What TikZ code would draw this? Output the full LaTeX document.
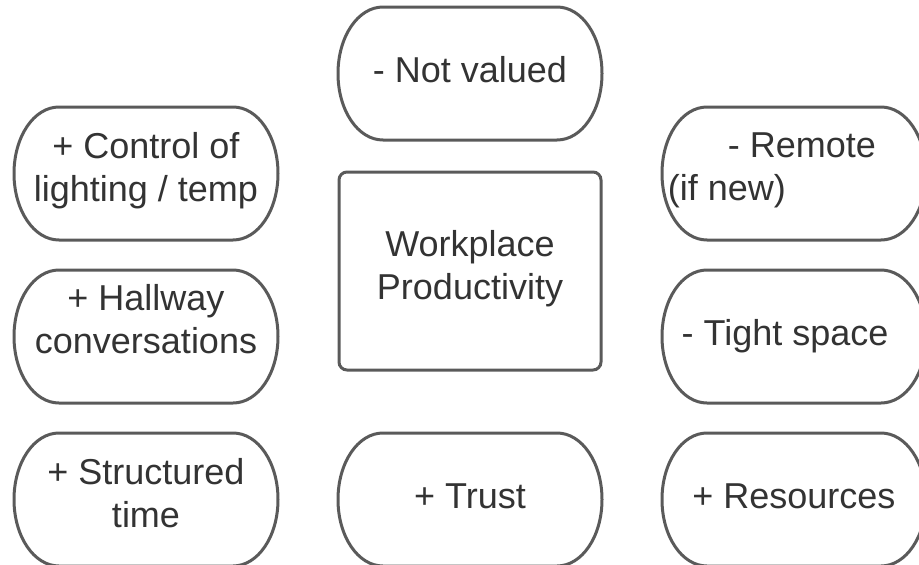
\documentclass[tikz,border=0pt]{standalone}
\usepackage{fontspec}
\setmainfont{Liberation Sans}
\usepackage{tikz}
\usetikzlibrary{positioning}
\definecolor{outline}{HTML}{5A5A5A}
\definecolor{ink}{HTML}{333333}

\begin{document}
\begin{tikzpicture}[line width=3pt, node distance=30pt,
    every node/.style={text=ink, font=\fontsize{36}{43}\selectfont, inner sep=0pt, outer sep=0pt,
      execute at begin node=\strut, execute at end node=\strut},
    pill/.style={rectangle, minimum width=264pt, minimum height=133pt, align=center},
    pill line/.style={draw=outline, line join=round}]
  \useasboundingbox (0,0) rectangle (919pt,-565pt);
  \node[pill] (structured) at (146pt,-499.5pt) {+ Structured\\time};
  \node[pill, right=60pt of structured] (trust) {+ Trust};
  \node[pill, right=60pt of trust] (resources) {+ Resources};
  \node[pill, above=of structured, text depth=36pt] (hallway) {+ Hallway\\conversations};
  \node[pill, above=of hallway] (control) {+ Control of\\lighting / temp};
  \node[pill, above=of resources] (tight) {- Tight space\hspace*{18pt}};
  \node[pill, above=of tight, align=left] (remote) {\hspace*{60pt}- Remote\hspace*{44pt}\\(if new)};
  \node[rectangle, rounded corners=8pt, draw=outline, minimum width=262pt, minimum height=198pt,
    align=center, above=63pt of trust] (prod) {Workplace\\Productivity};
  \node[pill, above=32pt of prod] (notvalued) {- Not valued};
  % terminator outlines around the pills
  \foreach \n in {notvalued,control,hallway,structured,trust,remote,tight,resources}
    \draw[pill line] ([xshift=45pt]\n.north west) -- ([xshift=-45pt]\n.north east)
      .. controls ([xshift=-20pt]\n.north east) and ([yshift=37pt]\n.east) .. (\n.east)
      .. controls ([yshift=-37pt]\n.east) and ([xshift=-20pt]\n.south east) .. ([xshift=-45pt]\n.south east)
      -- ([xshift=45pt]\n.south west)
      .. controls ([xshift=20pt]\n.south west) and ([yshift=-37pt]\n.west) .. (\n.west)
      .. controls ([yshift=37pt]\n.west) and ([xshift=20pt]\n.north west) .. ([xshift=45pt]\n.north west)
      -- cycle;
\end{tikzpicture}
\end{document}
